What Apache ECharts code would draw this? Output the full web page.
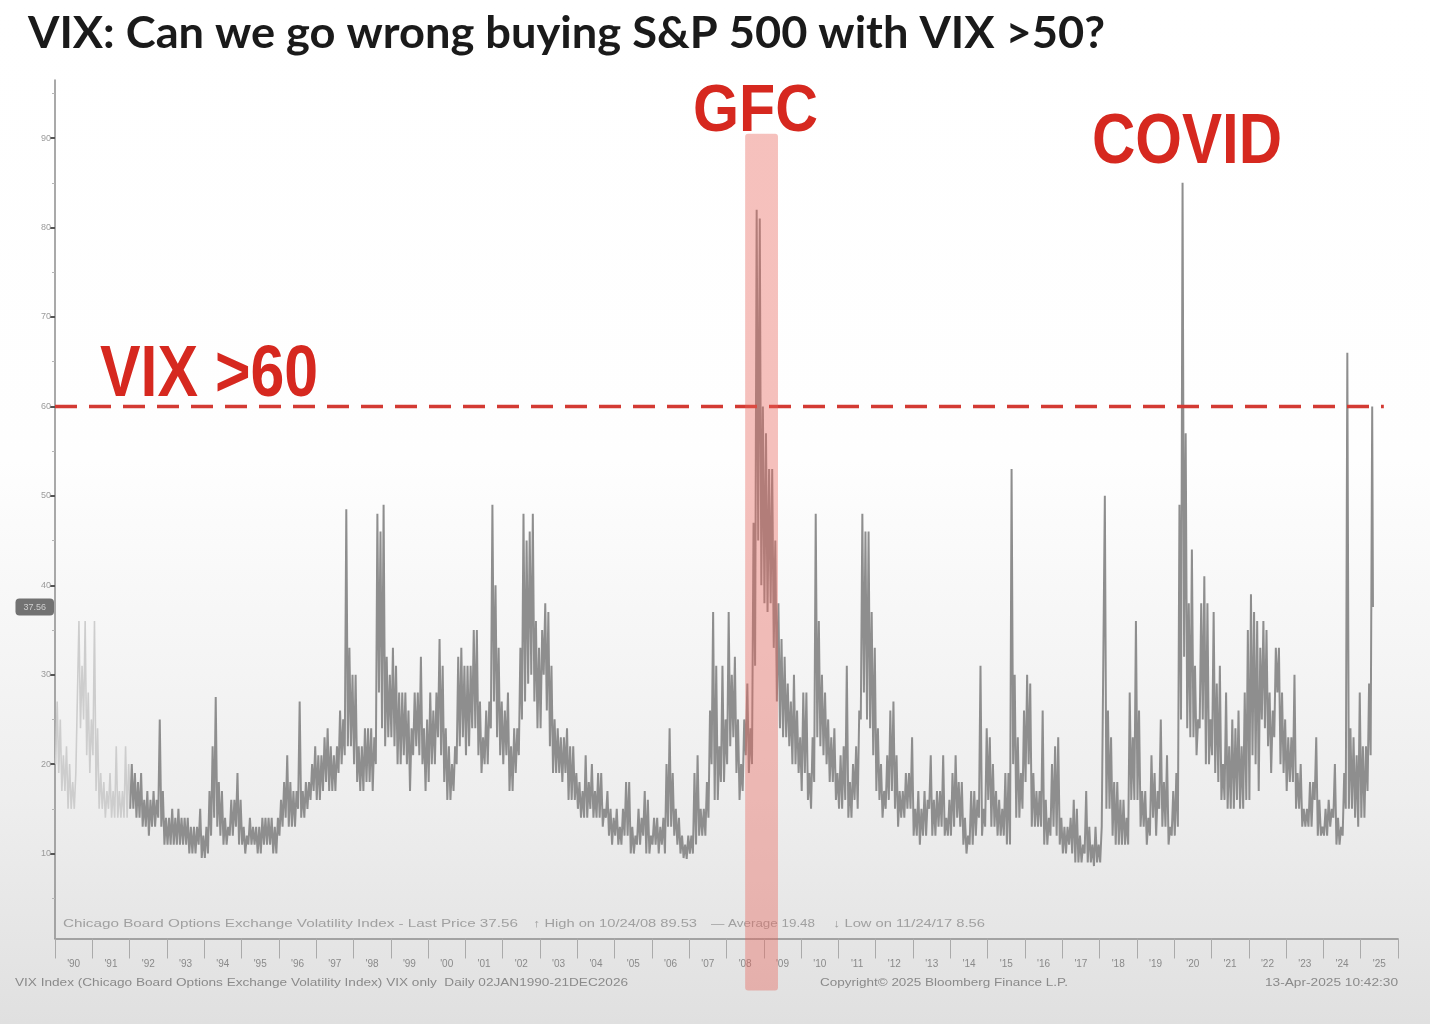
<!DOCTYPE html>
<html><head><meta charset="utf-8">
<script src="https://cdn.jsdelivr.net/npm/echarts@6/dist/echarts.min.js"></script>
<style>
html,body{margin:0;padding:0;width:1430px;height:1024px;overflow:hidden;
background:linear-gradient(to bottom,#ffffff 0%,#fefefe 45%,#eeeeee 78%,#e0e0e0 100%);}
#c{width:1430px;height:1024px;}
</style></head><body><div id="c"></div>
<script>
// Monthly low / high of VIX (Jan of first year onward)
const low1990s = [
 20,19,17,17,15,15,15,19,24,25,21,19,
 21,17,15,15,14,15,14,14,14,14,14,14,
 15,15,14,14,13,13,12,13,13,14,13,11,
 11,11,11,11,11,11,11,10,10,10,11,9.5,
 9.5,10,12,14,13,12,11,11,12,12,13,11,
 11,10,11,11,11,10,10,11,11,11,10,10,
 12,13,14,13,13,13,15,14,14,15,16,17,
 16,16,17,18,17,17,17,19,20,21,22,22,
 20,18,17,17,18,18,17,20,28,24,22,23,
 23,22,20,20,21,20,17,21,22,21,20,17];
const high1990s = [
 27,25,21,22,20,18,19,36,31,36,28,25,
 36,24,19,18,17,19,17,22,17,17,22,20,
 20,19,18,19,16,17,16,17,16,25,17,14,
 14,15,14,15,14,14,14,13,13,13,15,12,
 13,17,22,27.5,18,17,14,13,16,16,19,16,
 13,12,14,13,13,13,14,14,14,14,13,14,
 16,18,21,18,17,17,27,17,18,18,20,22,
 21,21,23,24,22,21,22,26,25,48.5,33,30,
 30,22,22,24,24,24,23,48,46,49,32,30,
 33,31,28,28,28,26,24,28,28,32,24,25];
const low2000s = [
 18,20,20,23,21,18,16,16,17,20,22,23,
 21,22,24,24,21,19,20,20,24,27,23,21,
 20,21,17,17,19,21,25,27,29,30,27,24,
 24,30,26,22,19,19,19,18,19,16,16,16,
 15,14,14,14,15,14,14,14,13,14,12,11,
 12,11,11,12,12,10,10,11,11,12,10,10,
 11,11,10,11,10,13,13,12,11,10,9.5,9.4,
 10,10,11,12,12,12,14,20,16,16,18,18,
 20,22,23,19,16,17,21,19,20,31,45,40,
 38,37,38,33,27,24,23,23,22,20,20,19];
const high2000s = [
 28,26,28,34,31,24,22,20,22,32,33,31,
 31,31,35,35,27,23,26,27,49,40,33,27,
 26,28,22,24,24,33,48,45,46,48,36,33,
 35,38,37,31,25,24,23,23,24,22,22,19,
 18,17,21,18,20,17,19,19,15,17,15,14,
 15,13,15,18,18,13,12,15,14,17,16,12,
 14,14,13,14,20,24,19,15,14,12,11,12,
 12,19,21,15,15,18,26,37,31,22,31,25,
 37,30,32,25,20,25,29,24,47,82,81,60,
 57,53,53,45,38,34,32,29,27,30,26,23];
const low2010s = [
 17,19,16,15,18,23,22,21,20,18,18,16,
 15,15,16,14,14,16,15,25,28,25,24,21,
 17,16,14,15,16,17,15,13,14,14,15,15,
 12,12,11,12,12,15,12,12,13,13,12,12,
 12,13,14,13,11,10,11,11,12,14,12,13,
 16,13,13,12,12,12,11,11,20,14,14,15,
 18,20,13,13,13,13,11,11,12,13,12,11,
 10,10,11,10,9,9,9,10,9,9,8.6,9,
 9,13,15,15,12,11,11,11,11,11,16,16,
 16,13,13,11,12,14,12,15,13,13,11,12];
const high2010s = [
 28,28,19,23,48,36,30,28,25,23,24,19,
 21,22,31,18,20,22,26,48,46,46,37,33,
 24,20,17,21,26,27,21,17,17,19,19,23,
 15,17,15,17,16,21,16,17,17,21,14,16,
 19,21,18,18,14,12,17,17,16,31,15,24,
 23,20,17,16,15,19,19,53,30,23,19,26,
 30,29,19,17,17,26,16,14,20,22,23,14,
 13,13,14,16,15,12,11,17,13,11,13,11,
 13,50,26,23,18,18,16,16,14,28,23,36,
 26,17,17,14,21,19,17,25,18,21,13,17];
const low2020s = [
 12,13,25,32,24,23,23,21,24,25,20,20,
 21,19,18,16,16,15,15,15,16,15,15,16,
 16,21,20,17,25,24,22,19,23,28,20,19,
 17,18,18,15,15,13,13,13,13,16,12,12,
 12,12,13,14,11,11,12,15,15,15,14,13,
 14,14,17,21];
const high2020s = [
 19,49,85,57,38,44,31,25,38,41,38,25,
 37,29,31,20,28,22,25,24,26,22,28,35,
 39,37,36,33,36,35,28,26,33,33,28,25,
 23,23,30,19,20,15,15,18,18,23,16,13,
 15,16,15,20,14,13,19,66,24,23,21,28,
 22,22,29,60];
const lastPrice = 37.56;
const threshold = 60;

// axis text
const yearLabels = ["'90","'91","'92","'93","'94","'95","'96","'97","'98","'99",
 "'00","'01","'02","'03","'04","'05","'06","'07","'08","'09",
 "'10","'11","'12","'13","'14","'15","'16","'17","'18","'19",
 "'20","'21","'22","'23","'24","'25"];
const yMajorTicks = [10,20,30,40,50,60,70,80,90];
const yMinorTicks = [5,15,25,35,45,55,65,75,85,95];
const gfcPeriod = [2008.5, 2009.38];
const legendTexts = [
 "Chicago Board Options Exchange Volatility Index - Last Price 37.56",
 "\u2191 High on 10/24/08 89.53",
 "\u2014 Average 19.48",
 "\u2193 Low on 11/24/17 8.56"];
const footerLeft = "VIX Index (Chicago Board Options Exchange Volatility Index) VIX only  Daily 02JAN1990-21DEC2026";
const footerMid = "Copyright\u00A9 2025 Bloomberg Finance L.P.";
const footerRight = "13-Apr-2025 10:42:30";

const startYear = 1990;
const lows = low1990s.concat(low2000s, low2010s, low2020s);
const highs = high1990s.concat(high2000s, high2010s, high2020s);
const pts = [];
for (let i = 0; i < lows.length; i++) {
  const x0 = startYear + i / 12;
  pts.push([x0 + 0.2 / 12, lows[i]]);
  pts.push([x0 + 0.7 / 12, highs[i]]);
}
const lastX = startYear + (lows.length - 1) / 12 + 0.95 / 12;
pts.push([lastX, lastPrice]);
const faintPts = pts.slice(0, 49);
const mainPts = pts.slice(48);

const yMin = 0.5, yMax = 96.5, gfcTop = 90.5;
const sans = "'Liberation Sans',Arial,sans-serif";
const titleFont = "Lato,'Liberation Sans',Arial,sans-serif";

// horizontal scaling so that each text spans the width it has in the picture
const mctx = document.createElement('canvas').getContext('2d');
function fitText(text, font, x, y, width, fill) {
  mctx.font = font;
  const w = mctx.measureText(text).width || width;
  return {type: 'text', x: x, y: y, scaleX: width / w, silent: true,
    style: {text: text, font: font, fill: fill, textVerticalAlign: 'top', verticalAlign: 'top'}};
}

const chart = echarts.init(document.getElementById('c'), null, {renderer: 'canvas'});
const legendX = [63, 533, 711, 833];
const legendW = [455, 164, 104, 152];
const red = '#d6281f';
const option = {
  animation: false,
  backgroundColor: 'transparent',
  grid: {left: 55, right: 32, top: 80, bottom: 85.5, outerBoundsMode: 'none'},
  xAxis: {
    type: 'value', min: 1990, max: 2026,
    axisLine: {show: true, onZero: false, lineStyle: {color: '#8c8c8c', width: 1.5}},
    axisTick: {show: true, length: 20, customValues: yearLabels.map((_, i) => startYear + i).concat([2026]),
      lineStyle: {color: '#aaaaaa', width: 1}},
    axisLabel: {customValues: yearLabels.map((_, i) => startYear + i + 0.5),
      formatter: v => yearLabels[Math.floor(v) - startYear],
      fontSize: 10, color: '#8a8a8a', margin: 21, fontFamily: sans},
    splitLine: {show: false}
  },
  yAxis: [{
    type: 'value', min: yMin, max: yMax,
    axisLine: {show: true, lineStyle: {color: '#8c8c8c', width: 1.5}},
    axisTick: {show: true, length: 5, customValues: yMajorTicks, lineStyle: {color: '#555', width: 2}},
    axisLabel: {customValues: yMajorTicks, fontSize: 9, color: '#9a9a9a', margin: 4, fontFamily: sans},
    splitLine: {show: false}
  }, {
    type: 'value', min: yMin, max: yMax, position: 'left',
    axisLine: {show: false},
    axisTick: {show: true, length: 3, customValues: yMinorTicks, lineStyle: {color: '#b5b5b5', width: 1}},
    axisLabel: {show: false}, splitLine: {show: false}
  }],
  series: [
    {type: 'line', data: faintPts, symbol: 'none', silent: true,
     lineStyle: {color: '#cdcdcd', width: 1.6}, z: 2},
    {type: 'line', data: mainPts, symbol: 'none', silent: true,
     lineStyle: {color: '#8e8e8e', width: 2}, z: 3,
     markLine: {silent: true, symbol: ['none', 'none'], animation: false,
       lineStyle: {color: 'rgba(0,0,0,0)', width: 0, type: 'solid'},
       label: {show: true, position: 'start', distance: 1, formatter: String(lastPrice),
         backgroundColor: '#727272', color: '#cfcfcf', padding: [4, 8], borderRadius: 4, fontSize: 9},
       data: [{yAxis: lastPrice}]}},
    {type: 'line', data: [[1990, threshold], [2025.62, threshold]], symbol: 'none', silent: true,
     lineStyle: {color: '#d33a33', width: 3.5, type: [22, 12]}, z: 5},
    {type: 'custom', silent: true, clip: false, z: 6,
     data: [[gfcPeriod[0], gfcPeriod[1]]],
     encode: {x: [0, 1]},
     renderItem: function (params, api) {
       const p1 = api.coord([api.value(0), gfcTop]);
       const p2 = api.coord([api.value(1), yMin]);
       return {type: 'rect', shape: {x: p1[0], y: p1[1], width: p2[0] - p1[0], height: p2[1] - p1[1] + 52, r: 3},
         style: {fill: 'rgba(232,100,90,0.40)'}};
     }}
  ],
  graphic: [
    fitText('VIX: Can we go wrong buying S&P 500 with VIX >50?', "bold 43px " + titleFont, 28, 13, 1077, '#1a1a1a'),
    fitText('GFC', "bold 67px " + sans, 693, 79, 125, red),
    fitText('COVID', "bold 70px " + sans, 1092, 109, 190, red),
    fitText('VIX >60', "bold 72px " + sans, 100, 340, 218, red),
    ...legendTexts.map((t, i) => fitText(t, "11px " + sans, legendX[i], 918, legendW[i], '#a0a0a0')),
    fitText(footerLeft, "11px " + sans, 15, 977, 613, '#8a8a8a'),
    fitText(footerMid, "11px " + sans, 820, 977, 248, '#8a8a8a'),
    fitText(footerRight, "11px " + sans, 1265, 977, 133, '#8a8a8a')
  ]
};
chart.setOption(option);
</script></body></html>
